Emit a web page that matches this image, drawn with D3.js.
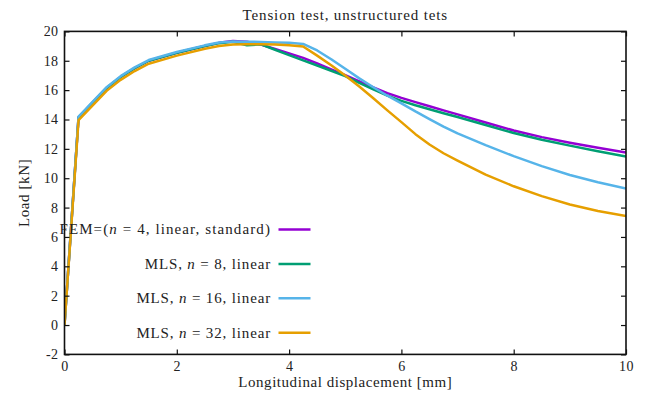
<!DOCTYPE html>
<html>
<head>
<meta charset="utf-8">
<script src="https://cdn.jsdelivr.net/npm/d3@7/dist/d3.min.js"></script>
<style>
  html, body { margin: 0; padding: 0; background: #fff; }
  svg text { font-family: "Liberation Serif", "DejaVu Serif", serif; fill: #222; }
</style>
</head>
<body>
<script>
// Displacement samples [mm] shared by all runs
const displacement = [0, 0.25, 0.75, 1.0, 1.25, 1.5, 2.0, 2.5, 2.75, 3.0,
  3.25, 3.5, 3.75, 4.0, 4.25, 4.5, 4.75, 5.0, 5.25, 5.5,
  5.75, 6.0, 6.25, 6.5, 6.75, 7.0, 7.5, 8.0, 8.5, 9.0, 9.5, 10.0];

// Load [kN] for each discretisation
const loadFEM   = [0, 14.15, 16.15, 16.9, 17.5, 18.0, 18.55, 19.0, 19.22, 19.35,
  19.3, 19.1, 18.8, 18.5, 18.2, 17.82, 17.42, 17.02, 16.6, 16.18,
  15.8, 15.47, 15.18, 14.9, 14.62, 14.35, 13.8, 13.25, 12.8, 12.42, 12.08, 11.75];
const loadMLS8  = [0, 14.15, 16.15, 16.9, 17.5, 18.0, 18.55, 19.0, 19.2, 19.3,
  19.05, 19.12, 18.75, 18.38, 18.03, 17.68, 17.32, 16.95, 16.5, 16.05,
  15.63, 15.27, 14.97, 14.7, 14.43, 14.17, 13.62, 13.08, 12.62, 12.22, 11.84, 11.47];
const loadMLS16 = [0, 14.2, 16.2, 16.95, 17.55, 18.05, 18.6, 19.05, 19.25, 19.32,
  19.3, 19.28, 19.25, 19.22, 19.15, 18.7, 18.1, 17.45, 16.8, 16.2,
  15.62, 15.1, 14.55, 14.03, 13.52, 13.05, 12.25, 11.5, 10.82, 10.22, 9.73, 9.3];
const loadMLS32 = [0, 13.95, 15.95, 16.7, 17.3, 17.8, 18.35, 18.82, 19.0, 19.1,
  19.13, 19.12, 19.1, 19.05, 18.97, 18.35, 17.7, 17.0, 16.25, 15.45,
  14.62, 13.82, 13.0, 12.3, 11.7, 11.2, 10.25, 9.45, 8.78, 8.21, 7.77, 7.42];

const seriesNames  = ["FEM=(n = 4, linear, standard)", "MLS, n = 8, linear", "MLS, n = 16, linear", "MLS, n = 32, linear"];
const seriesLoads  = [loadFEM, loadMLS8, loadMLS16, loadMLS32];
const seriesColors = ["#9400d3", "#009e73", "#56b4e9", "#e69f00"];

const xTicks = [0, 2, 4, 6, 8, 10];
const yTicks = [-2, 0, 2, 4, 6, 8, 10, 12, 14, 16, 18, 20];

const titleText = "Tension test, unstructured tets";
const xLabel = "Longitudinal displacement [mm]";
const yLabel = "Load [kN]";

const W = 646, H = 396;
const plotL = 64.5, plotR = 626, plotT = 31.4, plotB = 354.4;

const x = d3.scaleLinear().domain([0, 10]).range([plotL, plotR]);
const y = d3.scaleLinear().domain([-2, 20]).range([plotB, plotT]);

const svg = d3.select("body").append("svg").attr("width", W).attr("height", H);

svg.append("clipPath").attr("id", "plot-clip")
  .append("rect").attr("x", plotL).attr("y", plotT).attr("width", plotR - plotL).attr("height", plotB - plotT);

// Curves (piecewise linear between load steps)
const line = d3.line().x(d => x(d[0])).y(d => y(d[1]));
const curves = svg.append("g").attr("clip-path", "url(#plot-clip)");
seriesLoads.forEach((loads, i) => {
  curves.append("path")
    .datum(displacement.map((d, k) => [d, loads[k]]))
    .attr("d", line)
    .attr("fill", "none")
    .attr("stroke", seriesColors[i])
    .attr("stroke-width", 2.5)
    .attr("stroke-linejoin", "round");
});

// Axes with inward ticks on all four sides
const textSize = "15px", textSpacing = "0.85px";
const styleAxis = g => {
  g.select(".domain").remove();
  g.selectAll(".tick line").attr("stroke", "#111").attr("stroke-width", 1.2);
  g.selectAll(".tick text").style("font-size", "14px").style("letter-spacing", "0.4px")
    .attr("fill", "#222").style("font-family", "'Liberation Serif', serif");
};

svg.append("g").attr("transform", `translate(0,${plotB})`)
  .call(d3.axisBottom(x).tickValues(xTicks).tickSize(-5).tickPadding(7).tickFormat(d => String(d)))
  .call(styleAxis);
svg.append("g").attr("transform", `translate(0,${plotT})`)
  .call(d3.axisTop(x).tickValues(xTicks).tickSize(-5).tickFormat(""))
  .call(styleAxis);
svg.append("g").attr("transform", `translate(${plotL},0)`)
  .call(d3.axisLeft(y).tickValues(yTicks).tickSize(-5).tickPadding(6).tickFormat(d => String(d)))
  .call(styleAxis);
svg.append("g").attr("transform", `translate(${plotR},0)`)
  .call(d3.axisRight(y).tickValues(yTicks).tickSize(-5).tickFormat(""))
  .call(styleAxis);

// Frame
svg.append("rect")
  .attr("x", plotL).attr("y", plotT).attr("width", plotR - plotL).attr("height", plotB - plotT)
  .attr("fill", "none").attr("stroke", "#111").attr("stroke-width", 1.6);

// Title and axis labels
svg.append("text").attr("x", (plotL + plotR) / 2).attr("y", 20)
  .attr("text-anchor", "middle").style("font-size", textSize).style("letter-spacing", textSpacing)
  .text(titleText);
svg.append("text").attr("x", (plotL + plotR) / 2).attr("y", 387)
  .attr("text-anchor", "middle").style("font-size", textSize).style("letter-spacing", "0.55px")
  .text(xLabel);
svg.append("text").attr("transform", `translate(29,${(plotT + plotB) / 2}) rotate(-90)`)
  .attr("text-anchor", "middle").style("font-size", textSize).style("letter-spacing", "0.6px")
  .text(yLabel);

// Legend: right-aligned labels with the symbol n set in italics
const legendY0 = 229.5, legendStep = 34.4;
const legend = svg.append("g");
seriesNames.forEach((name, i) => {
  const yy = legendY0 + i * legendStep;
  const t = legend.append("text").attr("x", 271).attr("y", yy).attr("dy", "0.33em")
    .attr("text-anchor", "end").style("font-size", textSize)
    .style("letter-spacing", i === 0 ? "1.1px" : textSpacing);
  name.split(/(\bn\b)/).forEach(part => {
    if (!part) return;
    const ts = t.append("tspan").text(part);
    if (part === "n") ts.style("font-style", "italic");
  });
  legend.append("line")
    .attr("x1", 278.5).attr("x2", 310.5).attr("y1", yy).attr("y2", yy)
    .attr("stroke", seriesColors[i]).attr("stroke-width", 2.5);
});
</script>
</body>
</html>
